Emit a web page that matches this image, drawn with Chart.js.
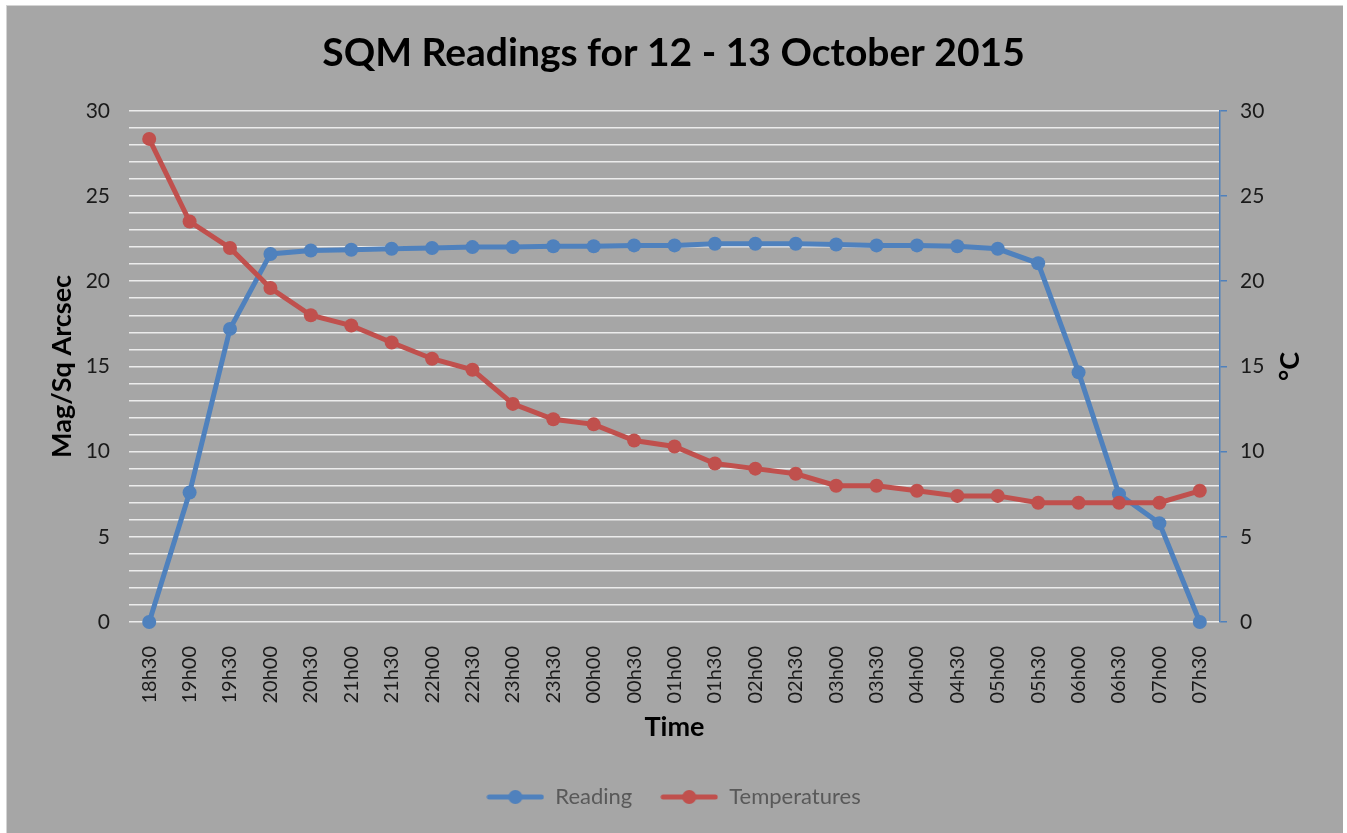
<!DOCTYPE html>
<html>
<head>
<meta charset="utf-8">
<title>SQM Readings</title>
<script src="https://cdn.jsdelivr.net/npm/chart.js@4.4.1/dist/chart.umd.min.js"></script>
<style>
  html, body { margin: 0; padding: 0; background: #ffffff; overflow: hidden; }
  #frame {
    position: absolute; left: 6px; top: 5px; width: 1336px; height: 840px;
    background: #a6a6a6; border-top: 1px solid #d4d4d4; border-left: 1px solid #d4d4d4;
  }
  #wrap { position: absolute; left: 0; top: 0; width: 1347px; height: 833px; }
</style>
</head>
<body>
<div id="frame"></div>
<div id="wrap"><canvas id="chart"></canvas></div>
<script>
const times = [
  "18h30", "19h00", "19h30", "20h00", "20h30", "21h00", "21h30", "22h00", "22h30",
  "23h00", "23h30", "00h00", "00h30", "01h00", "01h30", "02h00", "02h30", "03h00",
  "03h30", "04h00", "04h30", "05h00", "05h30", "06h00", "06h30", "07h00", "07h30"
]
const reading = [
  0, 7.6, 17.2, 21.6, 21.8, 21.85, 21.9, 21.95, 22.0, 22.0, 22.05, 22.05, 22.1, 22.1,
  22.2, 22.2, 22.2, 22.15, 22.1, 22.1, 22.05, 21.9, 21.05, 14.65, 7.5, 5.8, 0
]
const temperatures = [
  28.35, 23.5, 21.95, 19.6, 18.0, 17.4, 16.4, 15.45, 14.8, 12.8, 11.9, 11.6, 10.65, 10.3,
  9.3, 9.0, 8.7, 8.0, 8.0, 7.7, 7.4, 7.4, 7.0, 7.0, 7.0, 7.0, 7.7
]
const axisTicks = { min: 0, max: 30, step: 5 }

const BLUE = "#4f81bd"
const RED = "#c0504d"
const FONT = "Lato, 'Open Sans', sans-serif"

// small line-with-dot swatch for the legend
function legendSwatch(color) {
  const c = document.createElement("canvas")
  c.width = 58
  c.height = 16
  const ctx = c.getContext("2d")
  ctx.strokeStyle = color
  ctx.lineWidth = 5
  ctx.lineCap = "round"
  ctx.beginPath()
  ctx.moveTo(3, 8)
  ctx.lineTo(55, 8)
  ctx.stroke()
  ctx.fillStyle = color
  ctx.beginPath()
  ctx.arc(29, 8, 7, 0, Math.PI * 2)
  ctx.fill()
  return c
}

// The right axis title reads bottom-to-top like the left one, which the
// built-in scale title can't do, so it is drawn here instead.
const rightAxisTitle = {
  id: "rightAxisTitle",
  afterDraw: (chart) => {
    const scale = chart.scales.y1
    const { ctx } = chart
    ctx.save()
    ctx.translate(scale.right - 57, (scale.top + scale.bottom) / 2)
    ctx.rotate(-Math.PI / 2)
    ctx.textAlign = "center"
    ctx.textBaseline = "middle"
    ctx.fillStyle = "#000000"
    ctx.font = `bold 27px ${FONT}`
    ctx.fillText("°C", 0, 0)
    ctx.restore()
  }
}

new Chart(document.getElementById("chart"), {
  type: "line",
  data: {
    labels: times,
    datasets: [
      {
        label: "Reading",
        data: reading,
        yAxisID: "y",
        borderColor: BLUE,
        backgroundColor: BLUE,
        borderWidth: 5,
        pointRadius: 7,
        pointBorderWidth: 0,
        clip: false,
        order: 1
      },
      {
        label: "Temperatures",
        data: temperatures,
        yAxisID: "y1",
        borderColor: RED,
        backgroundColor: RED,
        borderWidth: 5,
        pointRadius: 7,
        pointBorderWidth: 0,
        clip: false,
        order: 0
      }
    ]
  },
  options: {
    responsive: true,
    maintainAspectRatio: false,
    animation: false,
    layout: { padding: { top: 10, bottom: 15, left: 0, right: 0 } },
    plugins: {
      title: {
        display: true,
        text: "SQM Readings for 12 - 13 October 2015",
        color: "#000000",
        font: { family: FONT, size: 39, weight: "bold" },
        padding: { top: 20, bottom: 34 }
      },
      legend: {
        position: "bottom",
        labels: {
          usePointStyle: true,
          pointStyleWidth: 58,
          padding: 28,
          color: "#595959",
          font: { family: FONT, size: 22 },
          generateLabels: (chart) => chart.data.datasets.map((ds, i) => ({
            text: ds.label,
            pointStyle: legendSwatch(ds.borderColor),
            fontColor: "#595959",
            datasetIndex: i,
            hidden: false,
            lineWidth: 0
          }))
        },
        onClick: () => {}
      },
      tooltip: { enabled: false }
    },
    scales: {
      x: {
        offset: true,
        grid: { display: false },
        border: { display: false },
        ticks: {
          color: "#1a1a1a",
          font: { family: FONT, size: 20 },
          minRotation: 90,
          maxRotation: 90,
          autoSkip: false,
          padding: 16
        },
        title: {
          display: true,
          text: "Time",
          color: "#000000",
          font: { family: FONT, size: 27, weight: "bold" },
          padding: 15
        },
        afterFit: (scale) => { scale.height = 136 }
      },
      y: {
        position: "left",
        min: axisTicks.min,
        max: axisTicks.max,
        grid: { color: "#ececec", lineWidth: 1.5, drawTicks: false },
        border: { display: false },
        ticks: {
          stepSize: 1,
          autoSkip: false,
          padding: 19,
          color: "#1a1a1a",
          font: { family: FONT, size: 21 },
          callback: (v) => (v % axisTicks.step === 0 ? v : "")
        },
        title: {
          display: true,
          text: "Mag/Sq Arcsec",
          color: "#000000",
          font: { family: FONT, size: 27, weight: "bold" },
          padding: 46
        },
        afterFit: (scale) => { scale.width = 129 }
      },
      y1: {
        position: "right",
        min: axisTicks.min,
        max: axisTicks.max,
        grid: { drawOnChartArea: false, tickLength: 7, tickColor: BLUE, lineWidth: 1.5 },
        border: { display: true, color: BLUE, width: 1.5 },
        ticks: {
          stepSize: axisTicks.step,
          padding: 13,
          color: "#1a1a1a",
          font: { family: FONT, size: 21 }
        },
        title: { display: false },
        afterFit: (scale) => { scale.width = 127 }
      }
    }
  },
  plugins: [ rightAxisTitle ]
})
</script>
</body>
</html>
